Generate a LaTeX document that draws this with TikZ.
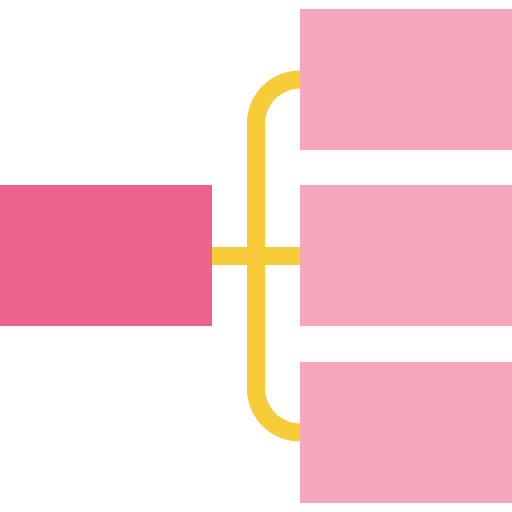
\documentclass[tikz,border=0pt]{standalone}
\usepackage{tikz}
\usetikzlibrary{calc,positioning}
\definecolor{HRose}{HTML}{EE638D}
\definecolor{LPink}{HTML}{F6A7BE}
\definecolor{SYellow}{HTML}{F8CB38}
\tikzset{
    rootbox/.style = {fill=HRose, rectangle, inner sep=0pt,
        minimum height=141pt,
        minimum width=212pt},
    leafbox/.style = {fill=LPink, rectangle, inner sep=0pt,
        minimum height=141pt,
        minimum width=212pt},
    link/.style = {draw=SYellow, line width=18pt}
}
\begin{document}
\begin{tikzpicture}[x=1pt,y=-1pt]
        \useasboundingbox (0,0) rectangle (512,512);
        \node[rootbox] (root) at (106,255.5) {};
        \node[leafbox] (mid) at (406,255.5) {};
        \node[leafbox] (top) at (406,79.5) {};
        \node[leafbox] (bot) at (406,432.5) {};
%        spine of the brace
        \coordinate (spine) at ($(root.east)!.5!(mid.west)$);
        \draw[link] (root.east) -- (mid.west);
        \draw[link,rounded corners=44pt] (top.west) -| (spine) |- (bot.west);
\end{tikzpicture}
\end{document}
